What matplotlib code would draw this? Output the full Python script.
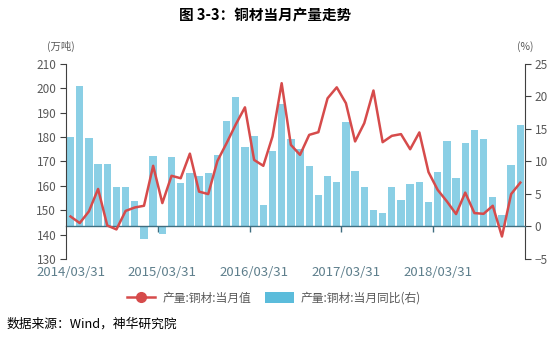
import numpy as np
import matplotlib
matplotlib.use('Agg')
import matplotlib.pyplot as plt
from matplotlib.lines import Line2D
from matplotlib.patches import Patch

plt.rcParams['font.family'] = ['Noto Sans CJK SC', 'DejaVu Sans']

# 月份: 2014/03 - 2018/12 (每年无1、2月数据)
anos = [2014, 2015, 2016, 2017, 2018]
meses = [3, 4, 5, 6, 7, 8, 9, 10, 11, 12]
datas = [f"{a}/{m:02d}" for a in anos for m in meses]

# 产量:铜材:当月值 (万吨)
producao = [147.4, 144.7, 149.5, 158.7, 143.7, 142.1, 149.7, 151.1, 151.8, 168.2,
            152.9, 164.1, 163.1, 173.2, 157.6, 156.6, 170.2, 177.5, 185.2, 192.2,
            170.6, 168.2, 180.2, 202.1, 176.8, 172.7, 180.9, 182.0, 195.9, 200.4,
            193.9, 178.2, 185.7, 199.1, 177.9, 180.5, 181.2, 175.0, 181.9, 165.6,
            158.3, 153.6, 148.4, 157.2, 148.8, 148.5, 151.8, 139.2, 156.6, 161.3]

# 产量:铜材:当月同比 (%)
yoy = [13.8, 21.6, 13.6, 9.6, 9.6, 6.1, 6.0, 3.9, -2.0, 10.8,
       -1.2, 10.7, 6.7, 8.2, 7.8, 8.2, 11.0, 16.2, 19.9, 12.2,
       13.9, 3.3, 11.6, 18.9, 13.4, 11.9, 9.3, 4.8, 7.7, 6.8,
       16.1, 8.5, 6.1, 2.5, 2.0, 6.0, 4.1, 6.6, 6.8, 3.8,
       8.3, 13.2, 7.5, 12.9, 14.9, 13.5, 4.6, 1.7, 9.5, 15.6]

rotulos_x = ['2014/03/31', '2015/03/31', '2016/03/31', '2017/03/31', '2018/03/31']

cor_barra = '#8ACFE5'
cor_linha = '#D64B4B'
cinza = '#595959'

fig = plt.figure(figsize=(5.59, 3.42), dpi=100)
ax = fig.add_axes([0.118, 0.243, 0.821, 0.570])
ax2 = ax.twinx()

x = np.arange(len(datas))

# barras no eixo direito
ax2.bar(x, yoy, width=0.8, color=cor_barra, zorder=2)
ax2.set_ylim(-5, 25)
ax2.set_yticks(range(-5, 26, 5))

# linha no eixo esquerdo
ax.plot(x, producao, color=cor_linha, linewidth=1.8, zorder=3)
ax.set_ylim(130, 210)
ax.set_yticks(range(130, 211, 10))
ax.set_xlim(-0.5, len(datas) - 0.5)

ax.set_zorder(ax2.get_zorder() + 1)
ax.patch.set_visible(False)

# eixo x: rótulos embaixo, marcas na linha do zero
idx_rotulos = [datas.index(r[:7]) for r in rotulos_x]
ax.set_xticks(idx_rotulos)
ax.set_xticklabels(rotulos_x)
ax.set_xticks([i - 0.5 for i in idx_rotulos[1:]], minor=True)
ax.tick_params(axis='x', which='both', length=0, labelsize=9.5, colors='#5E7F8C', pad=5)

ax2.xaxis.set_visible(True)
ax2.spines['bottom'].set_position(('data', 0))
ax2.spines['bottom'].set_color('#3F6E80')
ax2.spines['bottom'].set_linewidth(1.0)
ax2.tick_params(axis='x', which='major', length=0, labelbottom=False)
ax2.tick_params(axis='x', which='minor', length=4, width=1, color='#3F6E80',
                direction='out', bottom=True, labelbottom=False)

for a in (ax, ax2):
    a.spines['top'].set_visible(False)
ax.spines['bottom'].set_visible(False)
ax.spines['right'].set_visible(False)
ax2.spines['left'].set_visible(False)
ax.spines['left'].set_color('#404040')
ax2.spines['right'].set_color('#404040')

ax.tick_params(axis='y', length=4, color='#404040', labelsize=8.5, labelcolor=cinza, pad=3)
ax2.tick_params(axis='y', length=4, color='#404040', labelsize=8.5, labelcolor=cinza, pad=3)

fig.text(0.475, 0.955, '图 3-3：铜材当月产量走势', ha='center', va='center',
         fontsize=10.5, fontweight='bold', color='black')
fig.text(0.109, 0.865, '(万吨)', ha='center', va='center', fontsize=7.5, color=cinza)
fig.text(0.939, 0.865, '(%)', ha='center', va='center', fontsize=7.5, color=cinza)

handles = [Line2D([0], [0], color=cor_linha, linewidth=1.8, marker='o', markersize=7),
           Patch(facecolor='#5BBCDB', edgecolor='none')]
fig.legend(handles, ['产量:铜材:当月值', '产量:铜材:当月同比(右)'], loc='center',
           bbox_to_anchor=(0.49, 0.128), ncol=2, frameon=False, fontsize=8.5,
           labelcolor=cinza, handlelength=2.4, handleheight=1.0, columnspacing=1.2,
           handletextpad=0.6)

fig.text(0.012, 0.052, '数据来源：Wind，神华研究院', ha='left', va='center',
         fontsize=9.2, color='black')

fig.savefig('out.png', dpi=100)
